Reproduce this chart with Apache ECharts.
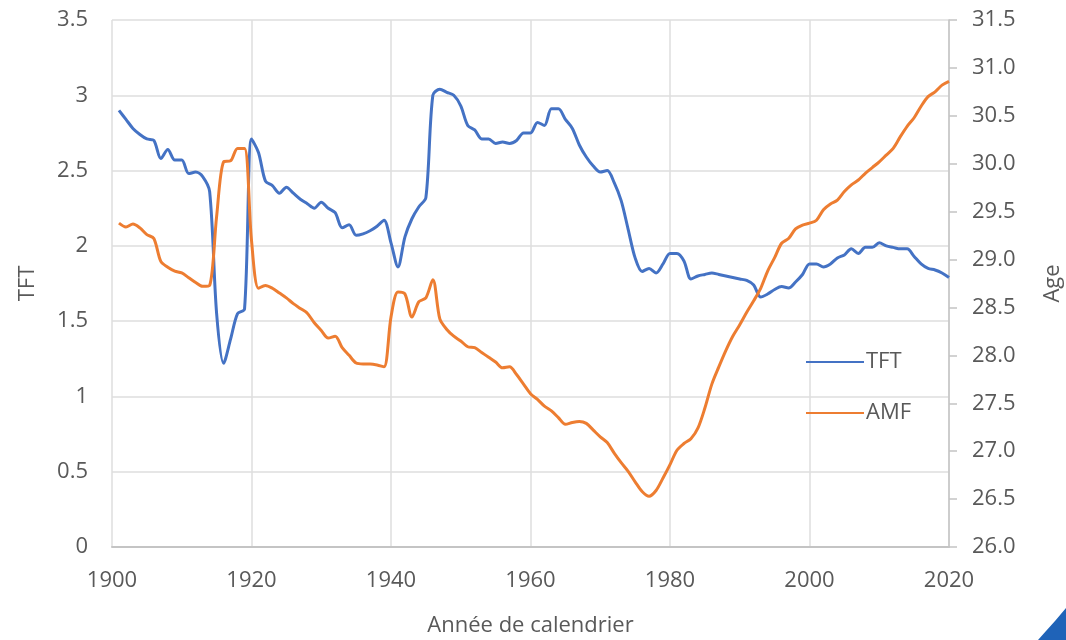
<!DOCTYPE html>
<html>
<head>
<meta charset="utf-8">
<script src="https://cdn.jsdelivr.net/npm/echarts@6/dist/echarts.min.js"></script>
<style>
html,body{margin:0;padding:0;background:#fff;}
#c{width:1066px;height:640px;}
</style>
</head>
<body>
<div id="c"></div>
<script>
const years = [];
for (let y = 1901; y <= 2020; y++) years.push(y);

const tft = [
2.90,2.84,2.78,2.74,2.71,2.70,2.58,2.64,2.57,2.57,
2.48,2.49,2.46,2.36,1.55,1.22,1.38,1.55,1.58,2.71,
2.62,2.43,2.40,2.35,2.39,2.35,2.31,2.28,2.25,2.29,
2.25,2.22,2.12,2.14,2.07,2.08,2.10,2.13,2.17,2.02,
1.86,2.06,2.18,2.26,2.32,3.00,3.04,3.02,3.00,2.93,
2.80,2.77,2.71,2.71,2.68,2.69,2.68,2.70,2.75,2.75,
2.82,2.80,2.91,2.91,2.84,2.78,2.67,2.59,2.53,2.49,
2.50,2.42,2.30,2.11,1.92,1.83,1.85,1.82,1.88,1.95,
1.95,1.90,1.78,1.80,1.81,1.82,1.81,1.80,1.79,1.78,
1.77,1.74,1.66,1.68,1.71,1.73,1.72,1.76,1.81,1.88,
1.88,1.86,1.88,1.92,1.94,1.98,1.95,1.99,1.99,2.02,
2.00,1.99,1.98,1.98,1.93,1.88,1.85,1.84,1.82,1.79
];

const amf = [
29.38,29.34,29.37,29.33,29.26,29.22,28.98,28.92,28.88,28.86,
28.81,28.76,28.72,28.73,29.45,30.02,30.03,30.16,30.16,29.20,
28.70,28.73,28.70,28.65,28.60,28.54,28.49,28.44,28.34,28.26,
28.18,28.20,28.08,28.00,27.92,27.91,27.91,27.90,27.88,28.40,
28.66,28.64,28.40,28.56,28.60,28.79,28.38,28.27,28.20,28.15,
28.09,28.08,28.03,27.98,27.93,27.87,27.88,27.80,27.70,27.60,
27.54,27.47,27.42,27.35,27.28,27.30,27.31,27.29,27.22,27.15,
27.09,26.98,26.88,26.79,26.68,26.58,26.53,26.59,26.72,26.86,
27.01,27.08,27.13,27.24,27.45,27.70,27.88,28.05,28.20,28.32,
28.45,28.57,28.70,28.88,29.02,29.17,29.22,29.32,29.36,29.38,
29.41,29.52,29.58,29.62,29.71,29.78,29.83,29.90,29.96,30.02,
30.09,30.16,30.28,30.39,30.48,30.60,30.70,30.75,30.82,30.86
];

const seriesNames = ['TFT', 'AMF'];
const axisNames = ['Année de calendrier', 'TFT', 'Age'];

const FONT = 'Open Sans';
const TXT = '#595959';
const FS = 22;

const chart = echarts.init(document.getElementById('c'), null, {renderer: 'canvas'});
chart.setOption({
  animation: false,
  backgroundColor: '#fff',
  textStyle: {fontFamily: FONT},
  grid: {left: 112, right: 117, top: 20, bottom: 93, containLabel: false, outerBoundsMode: 'none'},
  legend: {
    orient: 'vertical',
    left: 800,
    top: 346,
    itemWidth: 58,
    itemHeight: 22,
    itemGap: 29,
    itemStyle: {opacity: 0},
    textStyle: {color: TXT, fontSize: FS, fontFamily: FONT, lineHeight: 22, padding: [0,0,0,-3]},
    data: seriesNames
  },
  xAxis: {
    type: 'value',
    min: 1900, max: 2020, interval: 20,
    name: axisNames[0],
    nameLocation: 'middle',
    nameGap: 68,
    nameTextStyle: {color: TXT, fontSize: FS, fontFamily: FONT},
    axisLine: {show: true, lineStyle: {color: '#c4c4c4', width: 2}},
    axisTick: {show: false},
    axisLabel: {color: TXT, fontSize: FS, fontFamily: FONT, margin: 23,
      formatter: v => String(v)},
    splitLine: {show: true, lineStyle: {color: '#dedede', width: 1.5}}
  },
  yAxis: [{
    type: 'value',
    min: 0, max: 3.5, interval: 0.5,
    name: axisNames[1],
    nameLocation: 'middle',
    nameGap: 73,
    nameRotate: 90,
    nameTextStyle: {color: TXT, fontSize: FS, fontFamily: FONT},
    axisLine: {show: false},
    axisTick: {show: false},
    axisLabel: {color: TXT, fontSize: FS, fontFamily: FONT, margin: 24,
      formatter: v => String(v)},
    splitLine: {show: true, lineStyle: {color: '#dedede', width: 1.5}}
  }, {
    type: 'value',
    position: 'right',
    min: 26, max: 31.5, interval: 0.5,
    name: axisNames[2],
    nameLocation: 'middle',
    nameGap: 93,
    nameRotate: 90,
    nameTextStyle: {color: TXT, fontSize: FS, fontFamily: FONT, verticalAlign: 'top'},
    axisLine: {show: true, lineStyle: {color: '#c4c4c4', width: 1.5}},
    axisTick: {show: true, length: 8, lineStyle: {color: '#c4c4c4', width: 1.5}},
    axisLabel: {color: TXT, fontSize: FS, fontFamily: FONT, margin: 23,
      formatter: v => v.toFixed(1)},
    splitLine: {show: false}
  }],
  series: [{
    name: seriesNames[0],
    type: 'line',
    yAxisIndex: 0,
    data: years.map((y, i) => [y, tft[i]]),
    symbol: 'none',
    smooth: 0.3,
    lineStyle: {color: '#4472c4', width: 3},
    itemStyle: {color: '#4472c4'}
  }, {
    name: seriesNames[1],
    type: 'line',
    yAxisIndex: 1,
    data: years.map((y, i) => [y, amf[i]]),
    symbol: 'none',
    smooth: 0.3,
    lineStyle: {color: '#ed7d31', width: 3},
    itemStyle: {color: '#ed7d31'}
  }],
  graphic: [{
    type: 'polygon',
    shape: {points: [[1038,640],[1046,631],[1055,621],[1066,608],[1066,640]]},
    style: {fill: '#1f63b8'},
    silent: true
  }]
});
</script>
</body>
</html>
